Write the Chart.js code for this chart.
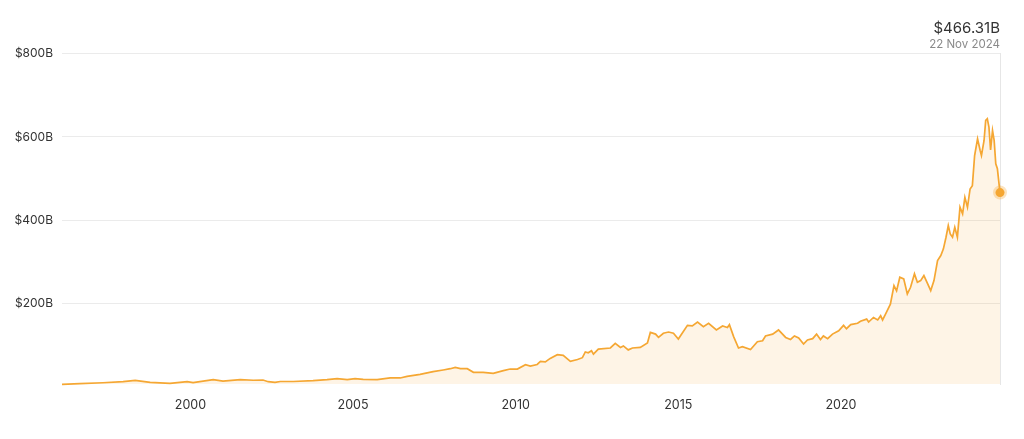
<!DOCTYPE html>
<html>
<head>
<meta charset="utf-8">
<script src="https://cdn.jsdelivr.net/npm/chart.js@4"></script>
<style>
  html, body { margin: 0; padding: 0; background: #fff; }
  #wrap { width: 1024px; height: 439px; }
</style>
</head>
<body>
<div id="wrap"><canvas id="capChart"></canvas></div>
<script>
// market cap, billions USD
const years = [
  1996.05, 1996.60, 1997.31, 1997.93, 1998.30, 1998.76, 1999.37, 1999.90,
  2000.08, 2000.70, 2001.00, 2001.53, 2001.93, 2002.23, 2002.39, 2002.60,
  2002.76, 2003.16, 2003.77, 2004.20, 2004.51, 2004.82, 2005.06, 2005.31,
  2005.74, 2006.14, 2006.45, 2006.66, 2007.06, 2007.46, 2007.77, 2007.99,
  2008.14, 2008.30, 2008.51, 2008.70, 2009.00, 2009.31, 2009.62, 2009.83,
  2010.05, 2010.30, 2010.45, 2010.66, 2010.76, 2010.91, 2011.06, 2011.28,
  2011.46, 2011.68, 2011.90, 2012.05, 2012.14, 2012.23, 2012.33, 2012.39,
  2012.54, 2012.91, 2013.06, 2013.22, 2013.31, 2013.46, 2013.59, 2013.83,
  2014.05, 2014.14, 2014.30, 2014.39, 2014.54, 2014.70, 2014.85, 2015.00,
  2015.28, 2015.43, 2015.59, 2015.77, 2015.93, 2016.17, 2016.36, 2016.51,
  2016.57, 2016.70, 2016.85, 2016.97, 2017.22, 2017.43, 2017.59, 2017.68,
  2017.90, 2018.08, 2018.30, 2018.45, 2018.57, 2018.70, 2018.85, 2018.97,
  2019.13, 2019.25, 2019.37, 2019.46, 2019.59, 2019.74, 2019.93, 2020.08,
  2020.17, 2020.30, 2020.51, 2020.60, 2020.79, 2020.85, 2021.00, 2021.13,
  2021.22, 2021.28, 2021.37, 2021.52, 2021.63, 2021.71, 2021.81, 2021.93,
  2022.04, 2022.14, 2022.26, 2022.35, 2022.45, 2022.55, 2022.66, 2022.76,
  2022.86, 2022.97, 2023.07, 2023.15, 2023.23, 2023.30, 2023.36, 2023.43,
  2023.50, 2023.58, 2023.66, 2023.74, 2023.81, 2023.89, 2023.97, 2024.04,
  2024.11, 2024.20, 2024.28, 2024.32, 2024.40, 2024.45, 2024.50, 2024.55,
  2024.60, 2024.66, 2024.71, 2024.76, 2024.81, 2024.89
];
const caps = [
  5, 6.7, 9, 11.5, 14.7, 10, 7.5, 11.5,
  9.5, 16.4, 13, 16.4, 15, 15.5, 11.5, 10,
  12, 12, 14, 16.4, 18.8, 16.4, 18.8, 17,
  16.4, 20.5, 20.5, 24.3, 29, 35.6, 39.7, 42.8,
  46, 42.8, 42.8, 34, 34, 31.5, 38, 42,
  42, 52.5, 49, 53, 60.4, 59, 67.6, 76.5,
  75, 60.4, 65, 69.3, 83, 81, 86, 78,
  90, 92.6, 103.7, 94, 97.5, 88, 92.6, 94,
  104.7, 130, 126, 118, 128, 131, 128, 114,
  147, 145.6, 155, 144, 152, 136, 145.6, 142,
  148.7, 120, 92.6, 95.8, 89, 107.8, 110, 121.5,
  126, 136, 118, 113, 121.5, 116.7, 102, 112,
  115, 126, 113, 121.5, 115, 126, 134, 147,
  139, 148.7, 152, 157, 162, 155, 166, 160,
  170, 160, 174, 198, 242.6, 230, 262.6, 258.7,
  222.6, 238.5, 270.8, 250.5, 254.6, 266.7, 248, 230.6,
  254.6, 302.8, 314.8, 331, 358.9, 387, 367, 359,
  383, 359, 431, 415, 455, 431, 475, 483,
  555.5, 595.7, 567.5, 555.5, 591.6, 639.7, 643.8, 623.6,
  569, 615.6, 591.6, 535.5, 523.5, 466.31
];
const yearTicks = [2000, 2005, 2010, 2015, 2020];
const capTicks = [200, 400, 600, 800];
const lastLabel = '$466.31B';
const lastDate = '22 Nov 2024';

const orange = '#f5a733';
const lastIdx = caps.length - 1;

Chart.defaults.font.family = 'Inter, "Noto Sans", sans-serif';
Chart.defaults.color = '#333';

new Chart(document.getElementById('capChart'), {
  type: 'line',
  data: {
    datasets: [{
      data: years.map((y, i) => ({ x: y, y: caps[i] })),
      borderColor: orange,
      borderWidth: 1.7,
      backgroundColor: 'rgba(245,167,51,0.12)',
      fill: 'start',
      tension: 0,
      clip: false,
      pointRadius: ctx => ctx.dataIndex === lastIdx ? 4.5 : 0,
      pointHoverRadius: 0,
      pointBackgroundColor: orange,
      pointBorderColor: 'rgba(245,167,51,0.3)',
      pointBorderWidth: 5
    }]
  },
  options: {
    responsive: true,
    maintainAspectRatio: false,
    animation: false,
    layout: { padding: { left: 0, right: 24, top: 19, bottom: 12 } },
    plugins: {
      legend: { display: false },
      tooltip: { enabled: false },
      title: {
        display: true,
        text: lastLabel,
        align: 'end',
        color: '#333',
        font: { size: 15, weight: 'normal' },
        padding: { top: 0, bottom: 1 }
      },
      subtitle: {
        display: true,
        text: lastDate,
        align: 'end',
        color: '#8a8a8a',
        font: { size: 11.5 },
        padding: { top: 0, bottom: 2 }
      }
    },
    scales: {
      x: {
        type: 'linear',
        min: years[0],
        max: years[lastIdx],
        afterBuildTicks: axis => { axis.ticks = yearTicks.map(v => ({ value: v })); },
        grid: { display: false, drawTicks: false },
        border: { display: false },
        ticks: {
          font: { size: 12.5 },
          color: '#333',
          padding: 14,
          maxRotation: 0,
          callback: v => String(v)
        }
      },
      y: {
        min: 6,
        max: 800,
        afterBuildTicks: axis => { axis.ticks = capTicks.map(v => ({ value: v })); },
        afterFit: axis => { axis.width = 62; },
        grid: { color: '#ebebeb', drawTicks: false },
        border: { display: false },
        ticks: {
          font: { size: 12 },
          color: '#333',
          padding: 9,
          callback: v => '$' + v + 'B'
        }
      },
      yRight: {
        position: 'right',
        min: 6,
        max: 800,
        afterFit: axis => { axis.width = 0; },
        grid: { display: false, drawTicks: false },
        ticks: { display: false },
        border: { color: '#e6e6e6' }
      }
    }
  }
});
</script>
</body>
</html>
